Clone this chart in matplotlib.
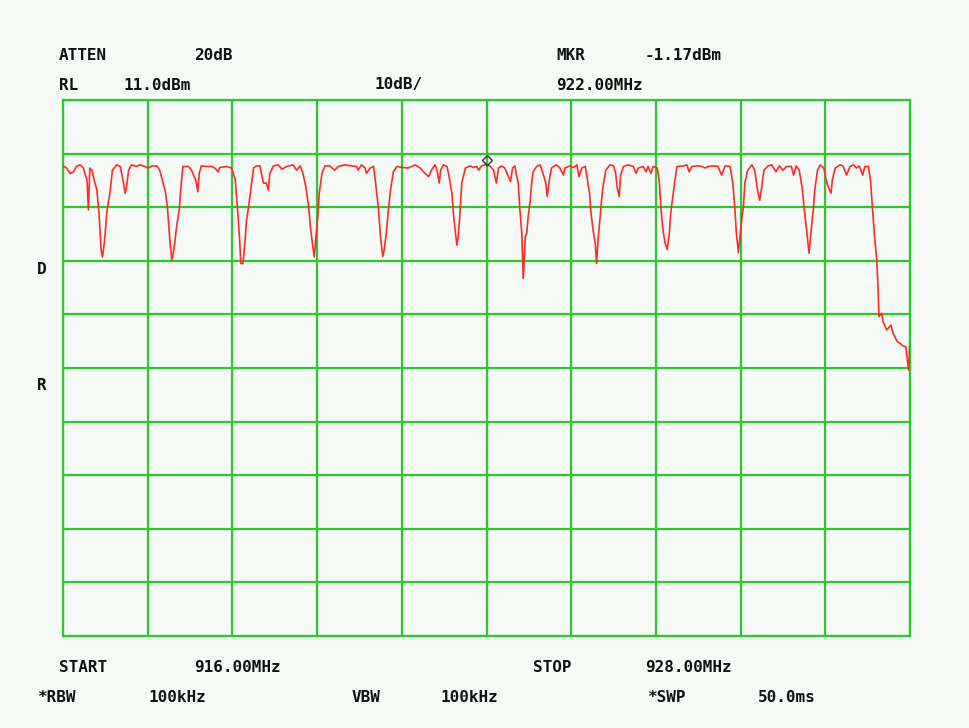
import matplotlib
matplotlib.use("Agg")
import matplotlib.pyplot as plt
import matplotlib.transforms as mtransforms

# --- settings of the analyzer -------------------------------------------
start_mhz = 916.0
stop_mhz = 928.0
ref_level = 11.0      # dBm, top of the screen
db_per_div = 10.0
mkr_mhz = 922.00
mkr_dbm = -1.17

# --- trace (MHz, dBm) --------------------------------------------------
freq = [
    916.00, 916.05, 916.10, 916.15, 916.19, 916.24, 916.29, 916.31, 916.34, 916.36,
    916.38, 916.41, 916.43, 916.48, 916.51, 916.54, 916.56, 916.59, 916.62, 916.67,
    916.70, 916.76, 916.81, 916.85, 916.88, 916.90, 916.93, 916.97, 917.04, 917.09,
    917.16, 917.21, 917.26, 917.33, 917.37, 917.40, 917.45, 917.48, 917.51, 917.54,
    917.57, 917.61, 917.65, 917.67, 917.70, 917.78, 917.82, 917.86, 917.88, 917.91,
    917.93, 917.96, 918.04, 918.11, 918.15, 918.20, 918.22, 918.32, 918.39, 918.44,
    918.47, 918.50, 918.52, 918.55, 918.58, 918.60, 918.63, 918.66, 918.70, 918.74,
    918.79, 918.82, 918.84, 918.88, 918.91, 918.93, 918.98, 919.05, 919.10, 919.17,
    919.26, 919.31, 919.36, 919.40, 919.44, 919.48, 919.51, 919.54, 919.56, 919.58,
    919.61, 919.63, 919.67, 919.71, 919.78, 919.85, 919.90, 919.99, 920.09, 920.16,
    920.18, 920.23, 920.28, 920.30, 920.35, 920.40, 920.43, 920.47, 920.50, 920.53,
    920.55, 920.58, 920.61, 920.64, 920.68, 920.73, 920.82, 920.89, 920.99, 921.06,
    921.13, 921.18, 921.22, 921.27, 921.30, 921.33, 921.35, 921.39, 921.44, 921.47,
    921.51, 921.53, 921.55, 921.58, 921.60, 921.62, 921.65, 921.70, 921.77, 921.81,
    921.86, 921.89, 921.93, 921.98, 922.00, 922.05, 922.10, 922.14, 922.17, 922.21,
    922.26, 922.31, 922.34, 922.37, 922.40, 922.43, 922.45, 922.47, 922.50, 922.52,
    922.55, 922.57, 922.59, 922.62, 922.64, 922.66, 922.71, 922.76, 922.80, 922.84,
    922.86, 922.89, 922.92, 922.99, 923.04, 923.09, 923.11, 923.18, 923.23, 923.28,
    923.31, 923.35, 923.40, 923.43, 923.46, 923.48, 923.51, 923.54, 923.56, 923.58,
    923.61, 923.63, 923.65, 923.69, 923.75, 923.80, 923.83, 923.85, 923.88, 923.90,
    923.94, 924.01, 924.08, 924.12, 924.15, 924.22, 924.26, 924.29, 924.33, 924.36,
    924.42, 924.45, 924.47, 924.50, 924.53, 924.56, 924.59, 924.61, 924.64, 924.67,
    924.70, 924.79, 924.84, 924.87, 924.91, 925.00, 925.05, 925.10, 925.14, 925.21,
    925.28, 925.33, 925.38, 925.45, 925.49, 925.52, 925.54, 925.57, 925.59, 925.62,
    925.64, 925.66, 925.70, 925.76, 925.80, 925.84, 925.87, 925.90, 925.93, 925.99,
    926.04, 926.10, 926.15, 926.20, 926.25, 926.32, 926.35, 926.39, 926.43, 926.47,
    926.50, 926.53, 926.56, 926.57, 926.60, 926.63, 926.65, 926.69, 926.73, 926.78,
    926.81, 926.84, 926.88, 926.90, 926.94, 927.01, 927.05, 927.10, 927.15, 927.20,
    927.24, 927.28, 927.33, 927.36, 927.41, 927.44, 927.47, 927.50, 927.53, 927.55,
    927.56, 927.60, 927.62, 927.67, 927.73, 927.76, 927.82, 927.86, 927.90, 927.94,
    927.98, 928.00,
]
level = [
    -1.3, -1.7, -2.7, -2.4, -1.4, -1.1, -1.7, -2.7, -3.9, -9.5,
    -1.7, -2.1, -3.3, -5.8, -10.1, -17.0, -18.3, -15.1, -10.1, -5.8,
    -2.1, -1.1, -1.4, -3.9, -6.4, -5.2, -2.1, -1.1, -1.4, -1.1,
    -1.4, -1.7, -1.3, -1.3, -2.1, -3.6, -6.1, -9.1, -14.5, -18.9,
    -17.0, -12.6, -9.1, -5.2, -1.4, -1.4, -2.1, -3.3, -3.9, -6.1,
    -2.7, -1.3, -1.4, -1.4, -1.7, -2.4, -1.6, -1.4, -1.7, -3.9,
    -8.9, -14.5, -19.5, -19.5, -15.1, -11.4, -8.9, -5.8, -1.7, -1.3,
    -1.3, -3.3, -4.5, -4.5, -5.8, -2.7, -1.3, -1.1, -1.9, -1.4,
    -1.1, -2.1, -1.3, -2.7, -5.2, -8.9, -13.3, -16.4, -18.3, -15.1,
    -10.8, -6.4, -2.7, -1.3, -1.3, -2.1, -1.4, -1.1, -1.3, -1.4,
    -2.1, -1.1, -1.7, -2.7, -1.7, -1.4, -4.5, -9.5, -14.8, -18.2,
    -17.0, -13.9, -9.5, -5.8, -2.4, -1.4, -1.6, -1.7, -1.1, -1.7,
    -2.7, -3.3, -2.1, -1.1, -2.1, -4.5, -2.1, -1.1, -1.4, -3.3,
    -6.4, -10.1, -12.6, -16.1, -14.5, -10.8, -4.5, -1.7, -1.3, -1.6,
    -1.4, -2.1, -1.3, -1.1, -1.17, -1.3, -2.1, -4.5, -1.7, -1.3,
    -1.7, -3.3, -4.2, -1.7, -1.3, -3.3, -4.5, -8.9, -13.9, -22.3,
    -14.5, -13.9, -10.8, -7.7, -4.5, -2.4, -1.4, -1.1, -2.7, -4.5,
    -7.0, -3.9, -1.7, -1.1, -1.7, -3.0, -1.7, -1.3, -1.6, -1.1,
    -3.3, -1.7, -1.4, -3.9, -6.4, -10.1, -13.3, -15.7, -19.5, -15.1,
    -10.8, -7.7, -5.2, -2.1, -1.1, -1.3, -2.7, -5.2, -7.0, -3.0,
    -1.4, -1.1, -1.4, -2.7, -1.7, -1.4, -2.4, -1.4, -2.7, -1.4,
    -1.7, -4.5, -8.9, -13.3, -15.7, -16.9, -13.9, -10.1, -7.0, -3.9,
    -1.4, -1.3, -1.1, -2.4, -1.4, -1.3, -1.4, -1.7, -1.4, -1.3,
    -1.4, -3.0, -1.3, -1.4, -4.5, -9.5, -13.9, -17.5, -14.5, -10.8,
    -8.9, -4.5, -2.1, -1.1, -2.1, -5.8, -7.7, -5.2, -2.1, -1.3,
    -1.1, -2.4, -1.3, -2.1, -1.4, -1.4, -3.0, -1.3, -2.1, -5.2,
    -9.2, -12.6, -16.4, -17.6, -13.3, -9.5, -5.8, -2.1, -1.1, -1.7,
    -3.9, -5.2, -6.4, -3.9, -1.7, -1.1, -1.3, -3.0, -1.4, -1.1,
    -1.7, -1.3, -3.0, -1.4, -1.4, -3.9, -9.5, -14.8, -18.9, -25.1,
    -29.4, -28.8, -30.4, -31.9, -31.0, -32.5, -34.1, -34.4, -34.9, -35.0,
    -39.4, -34.4,
]

# --- screen annotations: (text, x pixel, y pixel) -----------------------
labels = [
    ("ATTEN", 59, 56), ("20dB", 194, 56), ("MKR", 556, 56), ("-1.17dBm", 645, 56),
    ("RL", 59, 85), ("11.0dBm", 124, 85), ("10dB/", 374, 85), ("922.00MHz", 556, 85),
    ("D", 37, 270), ("R", 37, 385),
    ("START", 59, 668), ("916.00MHz", 194, 668), ("STOP", 533, 668), ("928.00MHz", 645, 668),
    ("*RBW", 37, 697), ("100kHz", 148, 697), ("VBW", 352, 697), ("100kHz", 441, 697),
    ("*SWP", 647, 697), ("50.0ms", 758, 697),
]

BG = "#f5faf6"
GRID = "#2ec82e"
TRACE = "#ff2a2a"
W, H = 969, 728


def rysuj():
    fig = plt.figure(figsize=(W / 100, H / 100), dpi=100, facecolor=BG)
    ax = fig.add_axes([63 / W, 1 - 636 / H, (910 - 63) / W, (636 - 100) / H])
    ax.set_facecolor(BG)

    bottom = ref_level - 10 * db_per_div
    step = (stop_mhz - start_mhz) / 10
    ax.set_xlim(start_mhz, stop_mhz)
    ax.set_ylim(bottom, ref_level)
    ax.set_xticks([start_mhz + i * step for i in range(11)])
    ax.set_yticks([bottom + i * db_per_div for i in range(11)])
    ax.tick_params(length=0, labelbottom=False, labelleft=False)
    ax.grid(True, color=GRID, lw=1.6)
    for s in ax.spines.values():
        s.set_color(GRID)
        s.set_linewidth(1.6)

    ax.plot(freq, level, color=TRACE, lw=1.2, zorder=3)

    # marker sits just above the trace
    up = mtransforms.offset_copy(ax.transData, fig=fig, y=4, units="points")
    ax.plot([mkr_mhz], [mkr_dbm], marker="D", ms=5, mfc="none", mec="#333333",
            mew=1.0, transform=up, zorder=4, clip_on=False)

    for txt, px, py in labels:
        fig.text(px / W, 1 - py / H, txt, ha="left", va="center",
                 family="DejaVu Sans Mono", weight="bold", fontsize=11.5, color="#111111")

    fig.savefig("out.png", dpi=100, facecolor=BG)


if __name__ == "__main__":
    rysuj()
